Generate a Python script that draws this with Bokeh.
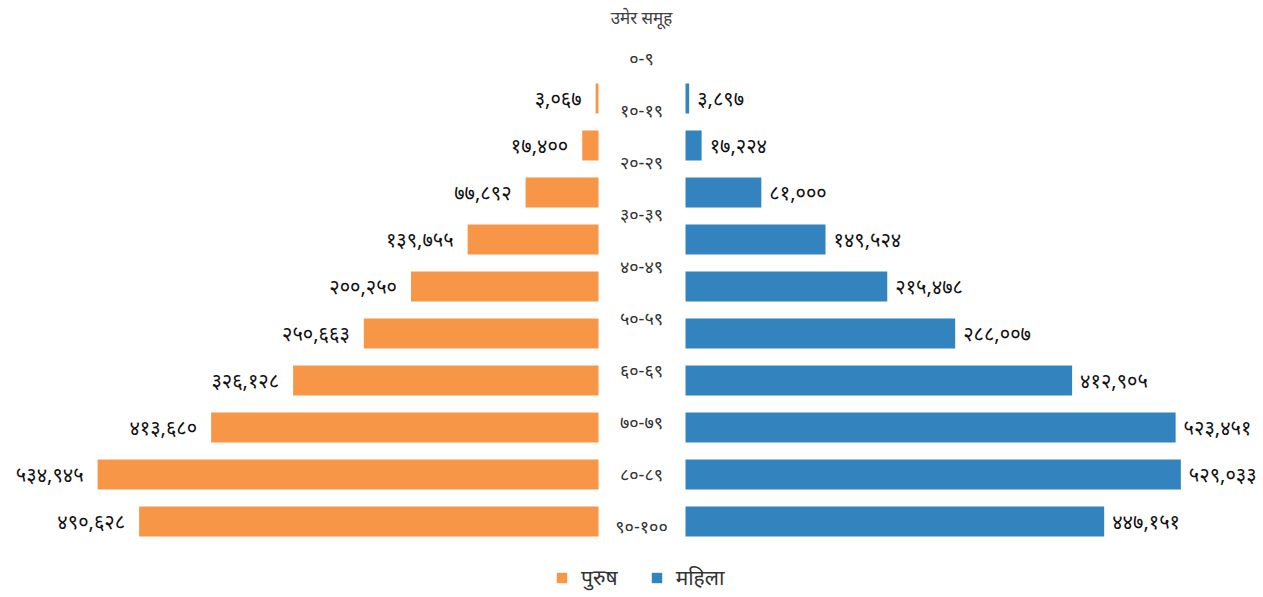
from bokeh.plotting import figure
from bokeh.models import Range1d, ColumnDataSource, Legend, LegendItem, Label
from bokeh.core.properties import value
from bokeh.embed import file_html
from bokeh.resources import INLINE
import numpy as np

# ---------------- data ----------------
age_groups = ["०-९", "१०-१९", "२०-२९", "३०-३९", "४०-४९",
              "५०-५९", "६०-६९", "७०-७९", "८०-८९", "९०-१००"]
male = [3067, 17400, 77892, 139755, 200250, 250663, 326128, 413680, 534945, 490628]
female = [3897, 17224, 81000, 149524, 215478, 288007, 412905, 523451, 529033, 447151]
title_text = "उमेर समूह"
male_label = "पुरुष"
female_label = "महिला"

DEV = str.maketrans("0123456789", "०१२३४५६७८९")


def deva(n):
    return f"{n:,}".translate(DEV)


# ---------------- layout constants (pixels) ----------------
W, H = 1262, 592
FONT = "Noto Sans"
ORANGE = "#F79646"
BLUE = "#3283BE"

units_per_px = 1068.0
left_zero_px = 598     # canvas x of male axis zero
right_zero_px = 685    # canvas x of female axis zero
center_px = 641

bar_first_px, bar_step_px = 98, 47
lab_first_px, lab_step_px = 57, 52

idx = np.arange(len(age_groups))

p = figure(width=W, height=H, output_backend="svg", toolbar_location=None,
           x_range=Range1d(-center_px, W - center_px),
           y_range=Range1d(-bar_first_px / bar_step_px + H / bar_step_px,
                           -bar_first_px / bar_step_px),
           min_border=0, outline_line_color=None,
           x_axis_location=None, y_axis_location=None)
p.grid.visible = False

p.extra_x_ranges = {
    "male": Range1d(left_zero_px * units_per_px, -(W - left_zero_px) * units_per_px),
    "female": Range1d(-right_zero_px * units_per_px, (W - right_zero_px) * units_per_px),
}
p.extra_y_ranges = {
    "labels": Range1d(-lab_first_px / lab_step_px + H / lab_step_px,
                      -lab_first_px / lab_step_px),
}

src = ColumnDataSource(dict(
    y=idx, male=male, female=female,
    male_txt=[deva(v) for v in male],
    female_txt=[deva(v) for v in female],
    age=age_groups,
))

r_m = p.hbar(y="y", left=0, right="male", height=0.64, source=src,
             x_range_name="male", fill_color=ORANGE, line_color=None)
r_f = p.hbar(y="y", left=0, right="female", height=0.64, source=src,
             x_range_name="female", fill_color=BLUE, line_color=None)

p.text(x="male", y="y", text="male_txt", source=src, x_range_name="male",
       x_offset=-14, text_align="right", text_baseline="middle",
       text_font=value(FONT), text_font_size="20px", text_font_style="normal",
       text_color="#111111")
p.text(x="female", y="y", text="female_txt", source=src, x_range_name="female",
       x_offset=8, text_align="left", text_baseline="middle",
       text_font=value(FONT), text_font_size="20px", text_font_style="normal",
       text_color="#111111")

p.text(x=0, y="y", text="age", source=src, y_range_name="labels",
       text_align="center", text_baseline="middle",
       text_font=value(FONT), text_font_size="18px", text_color="#333333")

p.add_layout(Label(x=0, y=H - 17, y_units="screen", text=title_text,
                   text_align="center", text_baseline="middle",
                   text_font=FONT, text_font_size="17px", text_color="#404040"))

legend = Legend(items=[LegendItem(label=male_label, renderers=[r_m]),
                       LegendItem(label=female_label, renderers=[r_f])],
                orientation="horizontal", location=(555, 1),
                glyph_width=13, glyph_height=13, label_standoff=13,
                spacing=32, padding=0, margin=0,
                border_line_color=None, background_fill_alpha=0,
                label_text_font=FONT, label_text_font_size="21px",
                label_text_color="#333333")
p.add_layout(legend)

open("out.html", "w").write(file_html(p, INLINE))
